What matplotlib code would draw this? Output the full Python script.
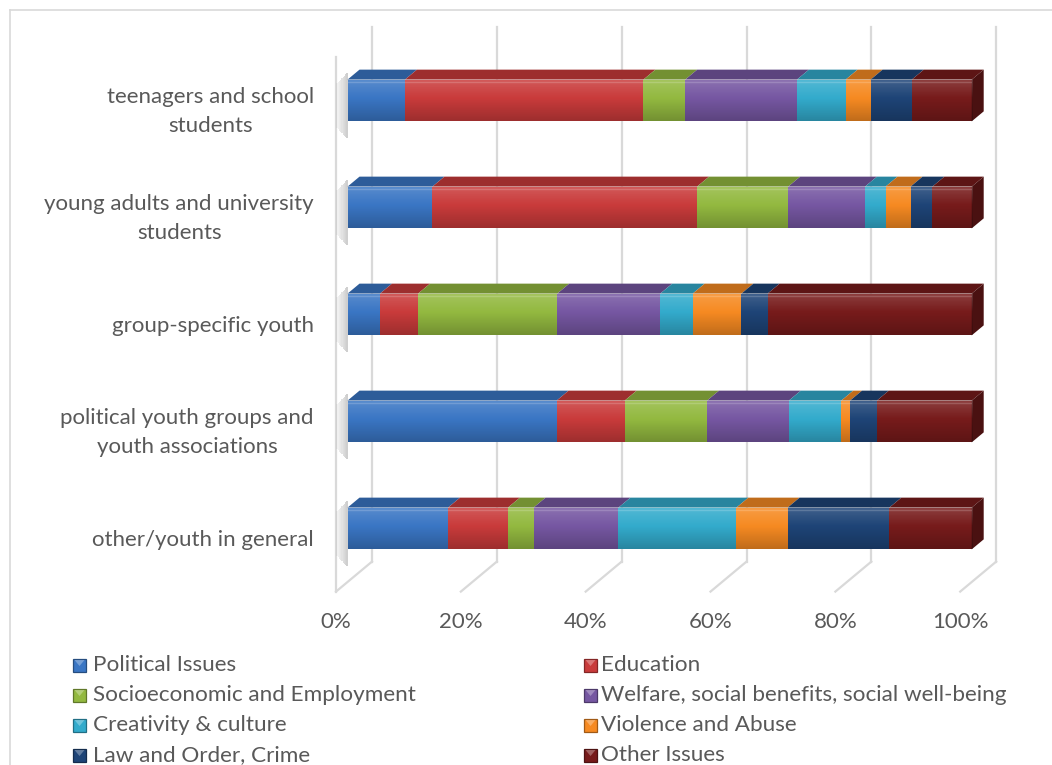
import matplotlib
matplotlib.use("Agg")
import matplotlib.pyplot as plt
import numpy as np
from matplotlib.patches import Polygon, Rectangle
from matplotlib.lines import Line2D
from matplotlib.colors import to_rgb
from matplotlib.transforms import ScaledTranslation

# ---- data ---------------------------------------------------------------
categories = [
    "teenagers and school\nstudents",
    "young adults and university\nstudents",
    "group-specific youth",
    "political youth groups and\nyouth associations",
    "other/youth in general",
]
topics = [
    "Political Issues",
    "Education",
    "Socioeconomic and Employment",
    "Welfare, social benefits, social well-being",
    "Creativity & culture",
    "Violence and Abuse",
    "Law and Order, Crime",
    "Other Issues",
]
political = [9.2, 13.6, 5.2, 33.5, 16.1]
education = [38.2, 42.4, 6.1, 10.9, 9.6]
socioeconomic = [6.7, 14.6, 22.3, 13.2, 4.1]
welfare = [17.9, 12.3, 16.5, 13.1, 13.6]
creativity = [7.8, 3.3, 5.2, 8.4, 18.9]
violence = [4.0, 4.0, 7.8, 1.4, 8.2]
law = [6.6, 3.5, 4.2, 4.3, 16.3]
other = [9.6, 6.3, 32.7, 15.2, 13.2]
x_ticks = [0, 20, 40, 60, 80, 100]
x_tick_labels = ["0%", "20%", "40%", "60%", "80%", "100%"]

series = [political, education, socioeconomic, welfare,
          creativity, violence, law, other]
colors = ["#3A76C4", "#C93B3B", "#93B940", "#7657A2",
          "#33ABCC", "#F68A22", "#1E4477", "#771B1B"]

# ---- figure / axes ------------------------------------------------------
W, H = 1052, 765
fig = plt.figure(figsize=(W / 100, H / 100), dpi=100)
fig.patch.set_facecolor("white")
FONT = "Lato"
TXT = "#595959"
FS_AXIS = 16.0
FS_LEG = 16.2

ax = fig.add_axes([347.5 / W, (H - 582) / H, 624.2 / W, 535 / H])
ax.set_xlim(0, 100)
ax.set_ylim(len(categories) - 0.5, -0.5)
ax.set_xticks([])
ax.set_yticks([])
for s in ax.spines.values():
    s.set_visible(False)
ax.set_facecolor("none")

# pixel -> data unit conversion
bb = ax.get_window_extent()
ux = bb.width / 100.0
uy = bb.height / len(categories)


def px(dx, dy):
    """pixel offset (right, up) to data offset"""
    return dx / ux, -dy / uy


def offset(dx, dy):
    """transform shifted by a pixel offset (right, up)"""
    return ax.transData + ScaledTranslation(dx / 100, dy / 100, fig.dpi_scale_trans)


ymin, ymax = -0.5, len(categories) - 0.5
back = px(24.5, 20.4)
front = px(-11.5, -9.6)
grid_c = "#D9D9D9"

# back-plane gridlines and floor lines
for v in x_ticks:
    ax.plot([v + back[0], v + back[0]], [ymin + back[1], ymax + back[1]],
            color=grid_c, lw=1.6, zorder=1, clip_on=False)
    ax.plot([v + back[0], v + front[0]], [ymax + back[1], ymax + front[1]],
            color=grid_c, lw=1.6, zorder=1, clip_on=False)
# front edge of side wall
ax.plot([front[0], front[0]], [ymin + front[1], ymax + front[1]],
        color=grid_c, lw=1.6, zorder=1, clip_on=False)

# ---- stacked 3D bars ----------------------------------------------------
data = np.array(series, dtype=float)
data = data / data.sum(axis=0) * 100.0
ypos = np.arange(len(categories))
bh = 0.39
depth = px(12, 10)

# soft shadow cast on the side wall
sw = 0.2
for y in ypos:
    for k in range(9):
        ax.add_patch(Rectangle((-(k + 1) * sw, y - bh / 2 - 0.06 + 0.012 * k),
                               sw, bh + 0.22 - 0.024 * k,
                               facecolor="#606060", alpha=0.30 - 0.03 * k,
                               lw=0, zorder=2, clip_on=False))


def shade(c, f):
    r = np.array(to_rgb(c))
    return tuple(np.clip(r * f, 0, 1))


lefts = np.zeros(len(categories))
for vals, c in zip(data, colors):
    ax.barh(ypos, vals, left=lefts, height=bh, color=c, lw=0, zorder=3)
    for y, l, w in zip(ypos, lefts, vals):
        yt = y - bh / 2
        ax.add_patch(Polygon([(l, yt), (l + w, yt),
                              (l + w + depth[0], yt + depth[1]),
                              (l + depth[0], yt + depth[1])],
                             closed=True, facecolor=shade(c, 0.78),
                             lw=0, zorder=3.5, clip_on=False))
    lefts += vals

# right-hand end faces
for y in ypos:
    yt, yb = y - bh / 2, y + bh / 2
    ax.add_patch(Polygon([(100, yt), (100 + depth[0], yt + depth[1]),
                          (100 + depth[0], yb + depth[1]), (100, yb)],
                         closed=True, facecolor=shade(colors[-1], 0.62),
                         lw=0, zorder=3.6, clip_on=False))

# vertical light/dark gradient over the front faces
n = 64
t = np.linspace(0, 1, n)
grad = np.zeros((n, 1, 4))
grad[:, 0, :3] = np.where(t[:, None] < 0.45, 1.0, 0.0)
grad[:, 0, 3] = np.where(t < 0.45, 0.16 * (1 - t / 0.45), 0.22 * (t - 0.45) / 0.55)
for y in ypos:
    ax.imshow(grad, extent=(0, 100, y + bh / 2, y - bh / 2),
              aspect="auto", interpolation="bilinear", zorder=4)
    ax.plot([0, 100], [y - bh / 2 + 0.025] * 2, color="white",
            alpha=0.18, lw=1.0, zorder=4.2)
ax.set_xlim(0, 100)
ax.set_ylim(len(categories) - 0.5, -0.5)

# ---- axis labels (sit on the front plane of the 3D box) -----------------
cat_tr = offset(-33.5, -11.2)
for y, name in zip(ypos, categories):
    ax.text(0, y, name, transform=cat_tr, ha="right", va="center",
            multialignment="center", linespacing=1.55,
            fontfamily=FONT, fontsize=FS_AXIS, color=TXT, clip_on=False)

tick_tr = offset(-11.5, -40.5)
for v, lab in zip(x_ticks, x_tick_labels):
    ax.text(v, ymax, lab, transform=tick_tr, ha="center", va="center",
            fontfamily=FONT, fontsize=FS_AXIS, color=TXT, clip_on=False)

# ---- legend -------------------------------------------------------------
mark_x = [73, 584]
text_x = [93, 601]
row_y0, row_dy = 665, 30
msz = 13
for i, (name, c) in enumerate(zip(topics, colors)):
    cx = mark_x[i % 2]
    cy = row_y0 + row_dy * (i // 2)
    fig.add_artist(Rectangle((cx / W, 1 - (cy + msz / 2) / H), msz / W, msz / H,
                             transform=fig.transFigure, facecolor=c,
                             edgecolor=shade(c, 0.65), lw=0.9))
    fig.add_artist(Polygon([((cx + 1.5) / W, 1 - (cy - msz / 2 + 1.5) / H),
                            ((cx + msz - 1.5) / W, 1 - (cy - msz / 2 + 1.5) / H),
                            ((cx + msz / 2) / W, 1 - (cy + 1) / H)],
                           closed=True, transform=fig.transFigure,
                           facecolor="white", alpha=0.3, lw=0))
    fig.text(text_x[i % 2] / W, 1 - cy / H, name, fontfamily=FONT,
             fontsize=FS_LEG, color=TXT, va="center", ha="left")

# chart-area frame
fig.add_artist(Line2D([10 / W, 10 / W], [1 - 10 / H, 0], transform=fig.transFigure,
                      color="#D9D9D9", lw=1.2))
fig.add_artist(Line2D([10 / W, 1], [1 - 10 / H, 1 - 10 / H], transform=fig.transFigure,
                      color="#D9D9D9", lw=1.2))

fig.savefig("out.png", dpi=100, facecolor="white")
